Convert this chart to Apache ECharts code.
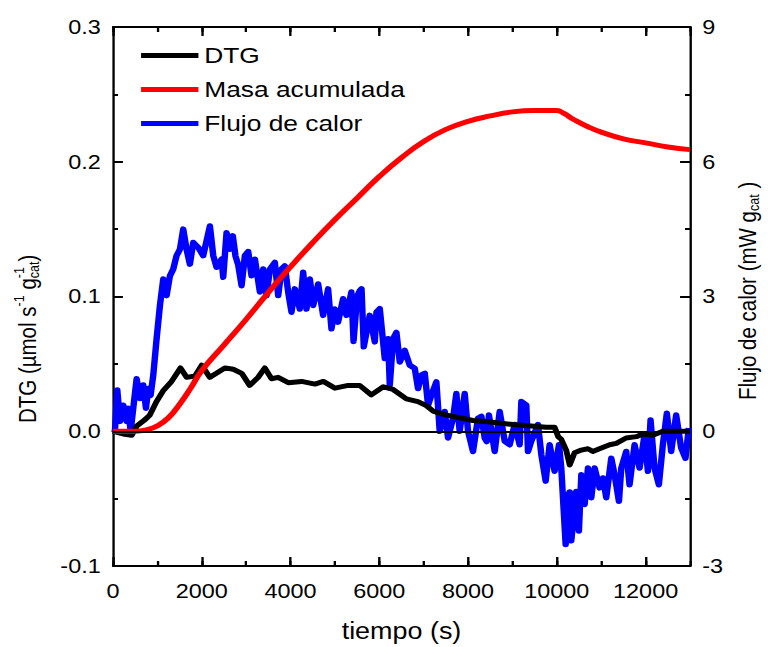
<!DOCTYPE html>
<html>
<head>
<meta charset="utf-8">
<script src="https://cdn.jsdelivr.net/npm/echarts@6.0.0/dist/echarts.min.js"></script>
<style>
  html, body { margin: 0; padding: 0; background: #fff; }
  #wrap { width: 768px; height: 647px; overflow: hidden; }
  /* the figure is laid out on a 656px-wide canvas and widened to 768px */
  #chart { width: 656px; height: 647px; transform: scaleX(1.1707); transform-origin: 0 0; }
</style>
</head>
<body>
<div id="wrap"><div id="chart"></div></div>
<script>
// DTG (µmol s-1 gcat-1), left axis
const dtgTime = [0, 230, 420, 540, 700, 830, 980, 1130, 1320, 1520, 1660, 1850, 2000, 2180, 2330, 2520, 2710, 2900, 3080, 3270, 3420, 3570, 3720, 3950, 4250, 4550, 4740, 5000, 5300, 5560, 5820, 6090, 6310, 6610, 6870, 7060, 7210, 7510, 7810, 8110, 8450, 9010, 9760, 9950, 10030, 10100, 10210, 10290, 10400, 10550, 10700, 10810, 10960, 11190, 11340, 11560, 11790, 11940, 12160, 12390, 12610, 13000];
const dtgValue = [0, -0.002, -0.003, 0.004, 0.008, 0.012, 0.022, 0.030, 0.037, 0.047, 0.040, 0.041, 0.049, 0.040, 0.043, 0.047, 0.046, 0.043, 0.034, 0.040, 0.047, 0.039, 0.040, 0.036, 0.037, 0.035, 0.037, 0.032, 0.034, 0.034, 0.027, 0.033, 0.031, 0.024, 0.022, 0.019, 0.015, 0.012, 0.010, 0.008, 0.007, 0.005, 0.003, 0.003, -0.004, -0.006, -0.014, -0.025, -0.016, -0.014, -0.013, -0.015, -0.013, -0.010, -0.009, -0.005, -0.004, -0.002, -0.003, 0.0, 0.0, 0.0];

// Masa acumulada, drawn against the left axis
const masaTime = [0, 500, 750, 1000, 1250, 1500, 1750, 2000, 2500, 3000, 3500, 4000, 4500, 5000, 5500, 6000, 6500, 7000, 7500, 8000, 8500, 9000, 9500, 10000, 10150, 10400, 10700, 11000, 11500, 12000, 12500, 13000];
const masaValue = [0, 0, 0.001, 0.004, 0.010, 0.020, 0.032, 0.045, 0.064, 0.083, 0.103, 0.122, 0.140, 0.157, 0.173, 0.189, 0.203, 0.215, 0.224, 0.230, 0.234, 0.237, 0.238, 0.238, 0.236, 0.231, 0.226, 0.222, 0.217, 0.214, 0.211, 0.209];

// Flujo de calor (mW gcat-1), right axis
const flujoTime = [0, 45, 97, 160, 232, 308, 345, 398, 457, 533, 608, 683, 743, 795, 848, 908, 983, 1058, 1133, 1208, 1283, 1358, 1433, 1508, 1583, 1658, 1733, 1808, 1921, 2033, 2184, 2259, 2334, 2446, 2484, 2559, 2634, 2700, 2760, 2822, 2897, 2972, 3047, 3122, 3197, 3310, 3385, 3460, 3535, 3647, 3722, 3797, 3872, 3947, 4022, 4097, 4210, 4285, 4360, 4435, 4510, 4622, 4735, 4847, 4922, 4997, 5072, 5185, 5260, 5372, 5420, 5500, 5560, 5600, 5650, 5785, 5898, 5936, 6011, 6123, 6198, 6236, 6311, 6386, 6461, 6573, 6686, 6799, 6873, 6948, 7024, 7099, 7174, 7286, 7361, 7474, 7549, 7661, 7736, 7811, 7924, 7999, 8111, 8224, 8300, 8374, 8420, 8470, 8600, 8712, 8825, 8937, 9050, 9162, 9200, 9312, 9350, 9425, 9575, 9650, 9748, 9837, 9950, 10049, 10100, 10198, 10230, 10260, 10290, 10325, 10437, 10497, 10551, 10626, 10701, 10776, 10851, 10963, 11038, 11113, 11226, 11301, 11399, 11451, 11563, 11638, 11751, 11863, 11976, 12051, 12111, 12201, 12298, 12388, 12478, 12576, 12688, 12800, 12898, 12973];
const flujoValue = [0.05, 0.02, 0.92, 0.22, 0.58, 0.22, 0.51, 0.0, 0.51, 1.17, 0.73, 1.03, 0.51, 0.95, 0.8, 1.25, 2.06, 2.8, 3.39, 3.02, 3.46, 3.61, 3.91, 4.05, 4.5, 4.05, 3.72, 4.2, 4.09, 3.91, 4.57, 3.91, 3.65, 3.83, 3.43, 4.42, 4.05, 4.35, 3.9, 3.7, 3.24, 3.91, 4.0, 3.46, 3.83, 3.1, 3.61, 3.02, 3.61, 3.76, 3.02, 3.61, 3.68, 3.1, 2.65, 3.17, 2.72, 3.54, 2.72, 3.39, 2.8, 3.28, 2.58, 3.17, 2.28, 2.72, 2.43, 2.95, 2.58, 3.1, 2.0, 3.0, 3.13, 3.17, 1.88, 2.58, 1.99, 2.65, 2.73, 1.62, 2.06, 1.03, 2.06, 2.2, 1.54, 1.8, 1.47, 1.4, 0.95, 1.25, 1.29, 0.58, 0.8, 1.1, 0.0, 0.44, -0.15, 0.29, 0.84, 0.0, 0.84, 0.0, -0.45, 0.29, 0.33, -0.15, -0.23, 0.36, -0.45, 0.44, -0.22, -0.3, 0.15, -0.3, 0.66, 0.58, -0.45, -0.22, 0.15, -0.52, -1.11, -0.3, -0.89, -0.3, -0.82, -2.52, -1.4, -2.4, -1.35, -2.44, -1.34, -2.22, -0.97, -1.63, -0.82, -1.48, -0.82, -1.26, -1.04, -1.48, -0.6, -0.97, -1.56, -0.82, -0.45, -1.19, -0.3, -0.82, -0.08, -0.89, 0.25, -0.82, -1.19, -0.3, 0.4, -0.45, 0.36, -0.37, -0.6, 0.07];

// Axis ranges and tick labels
const timeRange = [0, 13000];
const timeTicks = [0, 2000, 4000, 6000, 8000, 10000, 12000];
const dtgRange = [-0.1, 0.3];
const dtgTicks = ['-0.1', '0.0', '0.1', '0.2', '0.3'];
const flujoRange = [-3, 9];
const flujoTicks = ['-3', '0', '3', '6', '9'];

const seriesNames = ['DTG', 'Masa acumulada', 'Flujo de calor'];

const FONT = '"Liberation Sans", Arial, sans-serif';
const zip = (xs, ys) => xs.map((x, i) => [x, ys[i]]);

// measure text for the rotated axis titles
const measureCtx = document.createElement('canvas').getContext('2d');
function textWidth(str, size) {
  measureCtx.font = size + 'px ' + FONT;
  return measureCtx.measureText(str).width;
}

// builds a bottom-to-top title from pieces with super/subscripts
function rotatedTitle(cx, yBottom, parts) {
  let pos = 0;
  const children = [];
  parts.forEach(p => {
    children.push({
      type: 'text',
      x: pos,
      y: p.dy || 0,
      style: {
        text: p.t,
        font: p.s + 'px ' + FONT,
        fill: '#000',
        align: 'left',
        verticalAlign: 'middle'
      }
    });
    if (!p.hold) pos += textWidth(p.t, p.s);
  });
  return { type: 'group', x: cx, y: yBottom, rotation: Math.PI / 2, children: children };
}

const axisBlack = { color: '#000', width: 2 };

function xAxisBase(position, showLabels, interval, tickLen, showLine) {
  return {
    type: 'value',
    position: position,
    min: timeRange[0],
    max: timeRange[1],
    interval: interval,
    axisLine: { show: showLine, onZero: false, lineStyle: axisBlack },
    axisTick: { show: true, inside: true, length: tickLen, lineStyle: axisBlack },
    splitLine: { show: false },
    axisLabel: {
      show: showLabels,
      showMaxLabel: false,
      fontSize: 20,
      fontFamily: FONT,
      color: '#000',
      margin: 15,
      formatter: v => (timeTicks.indexOf(v) >= 0 ? String(v) : '')
    }
  };
}

const xMain = xAxisBase('bottom', true, 2000, 9, true);
xMain.name = 'tiempo (s)';
xMain.nameLocation = 'middle';
xMain.nameGap = 53;
xMain.nameTextStyle = { fontSize: 23, fontFamily: FONT, color: '#000' };

function yAxisBase(position, range, interval, labels) {
  return {
    type: 'value',
    position: position,
    min: range[0],
    max: range[1],
    interval: interval,
    axisLine: { show: true, onZero: false, lineStyle: axisBlack },
    axisTick: { show: true, inside: true, length: 8.5, lineStyle: axisBlack },
    minorTick: { show: true, splitNumber: 2, length: 4.3, lineStyle: axisBlack },
    splitLine: { show: false },
    axisLabel: {
      fontSize: 20, fontFamily: FONT, color: '#000', margin: 10.5,
      formatter: v => labels[Math.round((v - range[0]) / interval)]
    }
  };
}

const option = {
  backgroundColor: '#fff',
  animation: false,
  textStyle: { fontFamily: FONT },
  grid: { left: 96.5, right: 66.6, top: 27, bottom: 79, containLabel: false },
  legend: {
    data: seriesNames,
    orient: 'vertical',
    left: 115.5,
    top: 39,
    itemWidth: 49,
    itemHeight: 5,
    itemGap: 11,
    icon: 'rect',
    textStyle: { fontSize: 22.5, fontFamily: FONT, color: '#000' }
  },
  xAxis: [
    xMain,
    xAxisBase('bottom', false, 1000, 5, false),
    xAxisBase('top', false, 2000, 9, true),
    xAxisBase('top', false, 1000, 5, false)
  ],
  yAxis: [
    yAxisBase('left', dtgRange, 0.1, dtgTicks),
    yAxisBase('right', flujoRange, 3, flujoTicks)
  ],
  graphic: [
    rotatedTitle(24, 423, [
      { t: 'DTG (\u00b5mol s', s: 20.5 },
      { t: '-1', s: 12.5, dy: -8 },
      { t: ' g', s: 20.5 },
      { t: '-1', s: 12.5, dy: -8, hold: true },
      { t: 'cat', s: 12.5, dy: 5 },
      { t: ')', s: 20.5 }
    ]),
    rotatedTitle(639, 400, [
      { t: 'Flujo de calor (mW g', s: 20.5 },
      { t: 'cat', s: 12.5, dy: 5 },
      { t: ' )', s: 20.5 }
    ])
  ],
  series: [
    {
      name: 'Flujo de calor',
      type: 'line',
      xAxisIndex: 0,
      yAxisIndex: 1,
      data: zip(flujoTime, flujoValue),
      showSymbol: false,
      symbol: 'none',
      color: '#0000ff',
      lineStyle: { color: '#0000ff', width: 5.5, join: 'round' }
    },
    {
      name: 'DTG',
      type: 'line',
      xAxisIndex: 0,
      yAxisIndex: 0,
      data: zip(dtgTime, dtgValue),
      showSymbol: false,
      symbol: 'none',
      color: '#000000',
      lineStyle: { color: '#000000', width: 5, join: 'round' }
    },
    {
      name: 'Masa acumulada',
      type: 'line',
      xAxisIndex: 0,
      yAxisIndex: 0,
      data: zip(masaTime, masaValue),
      showSymbol: false,
      symbol: 'none',
      smooth: 0.5,
      color: '#ff0000',
      lineStyle: { color: '#ff0000', width: 5 },
      markLine: {
        silent: true,
        symbol: ['none', 'none'],
        label: { show: false },
        lineStyle: { color: '#000', width: 2, type: 'solid' },
        data: [{ yAxis: 0 }]
      }
    }
  ]
};

const chart = echarts.init(document.getElementById('chart'), null, { renderer: 'svg' });
chart.setOption(option);
</script>
</body>
</html>
